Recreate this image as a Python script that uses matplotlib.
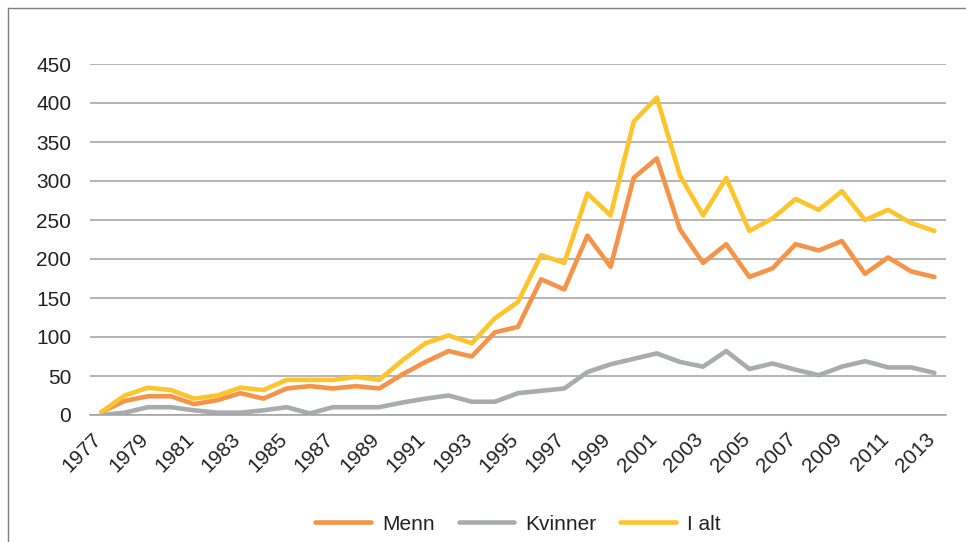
import matplotlib
matplotlib.use("Agg")
import matplotlib.pyplot as plt
from matplotlib.lines import Line2D
from matplotlib.transforms import ScaledTranslation

plt.rcParams['font.family'] = ['Liberation Sans', 'DejaVu Sans']

# data
aar = list(range(1977, 2014))
menn = [4, 18, 24, 24, 14, 19, 28, 21, 34, 37, 34, 37, 34, 52, 68,
        82, 75, 106, 113, 174, 161, 230, 190, 304, 329, 238, 195,
        219, 177, 188, 219, 211, 223, 181, 202, 184, 177]
kvinner = [0, 3, 10, 10, 6, 3, 3, 6, 10, 2, 10, 10, 10, 16, 21,
           25, 17, 17, 28, 31, 34, 55, 65, 72, 79, 68, 62,
           82, 59, 66, 58, 51, 62, 69, 61, 61, 54]
i_alt = [4, 25, 35, 32, 21, 25, 35, 32, 45, 45, 45, 49, 45, 70, 92,
         102, 92, 124, 145, 205, 195, 284, 256, 376, 407, 307, 256,
         304, 236, 252, 277, 263, 287, 250, 263, 246, 236]
y_ticks = [0, 50, 100, 150, 200, 250, 300, 350, 400, 450]

serier = [("Menn", menn, "#F59448"),
          ("Kvinner", kvinner, "#A9ACAC"),
          ("I alt", i_alt, "#FDC42C")]

W, H = 966, 542
ax_bunn, ax_topp = 415, 64
fig = plt.figure(figsize=(W / 100, H / 100), dpi=100)
ax = fig.add_axes([90 / W, 1 - ax_bunn / H, (946 - 90) / W, (ax_bunn - ax_topp) / H])

for navn, verdier, farge in serier:
    ax.plot(aar, verdier, color=farge, lw=3.3, label=navn,
            solid_joinstyle='round', solid_capstyle='round')

ax.set_xlim(aar[0] - 0.5, aar[-1] + 0.5)
ax.set_ylim(0, 450)
ax.set_yticks(y_ticks)
ax.set_xticks(aar[::2])
ax.set_xticklabels([str(a) for a in aar[::2]], rotation=45, ha='right')
ax.tick_params(axis='both', length=0, labelsize=15, colors='#222222')
ax.tick_params(axis='y', pad=13.5)
ax.tick_params(axis='x', pad=10.5)
# flytt årstallene litt mot høyre
skyv = ScaledTranslation(4 / 100, 0, fig.dpi_scale_trans)
for lbl in ax.get_xticklabels():
    lbl.set_transform(lbl.get_transform() + skyv)
ax.grid(axis='y', color='#A0A0A0', lw=1.1)
ax.set_axisbelow(True)
for side in ['left', 'right', 'top']:
    ax.spines[side].set_visible(False)
ax.spines['bottom'].set_color('#A0A0A0')
ax.spines['bottom'].set_linewidth(1.1)

ax.legend(loc='center', bbox_to_anchor=(0.5, (ax_bunn - 524) / (ax_bunn - ax_topp)),
          bbox_transform=ax.transAxes, ncol=3, frameon=False, fontsize=15,
          handlelength=2.65, handletextpad=0.55, columnspacing=1.15,
          labelcolor='#222222')

# ramme oppe og til venstre
fig.add_artist(Line2D([8 / W, 8 / W], [0, 1 - 8 / H], color='#7F7F7F', lw=1))
fig.add_artist(Line2D([8 / W, 1], [1 - 8 / H, 1 - 8 / H], color='#7F7F7F', lw=1))

fig.savefig("out.png", dpi=100)
